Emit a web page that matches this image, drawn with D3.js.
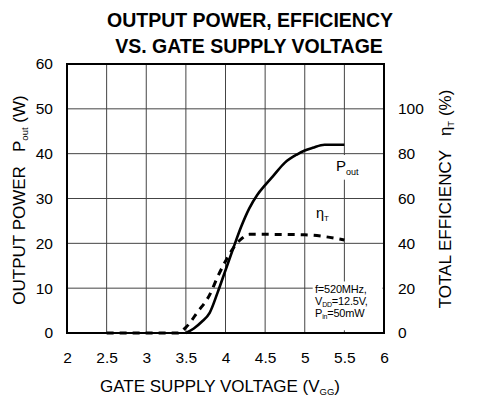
<!DOCTYPE html>
<html><head><meta charset="utf-8">
<script src="https://cdn.jsdelivr.net/npm/d3@7"></script>
<style>
body{margin:0;background:#fff;}
text{font-family:"Liberation Sans",Arial,sans-serif;fill:#000;white-space:pre;}
</style></head>
<body><svg id="c" width="490" height="401"></svg>
<script>
const xTicks = [2, 2.5, 3, 3.5, 4, 4.5, 5, 5.5, 6];
const leftTicks = [0, 10, 20, 30, 40, 50, 60];
const rightTicks = [0, 20, 40, 60, 80, 100];
const poutV = [3.5, 3.6, 3.7, 3.8, 3.9, 4.0, 4.1, 4.2, 4.3, 4.4, 4.5, 4.6, 4.75, 4.9, 5.0, 5.1, 5.25, 5.5];
const poutW = [0, 1, 2.5, 4.5, 9, 14, 19, 23.8, 27.8, 30.8, 33, 35, 38, 39.8, 40.7, 41.3, 42, 42];
const effV = [2.5, 3.0, 3.4, 3.5, 3.65, 3.8, 3.9, 4.0, 4.1, 4.2, 4.3, 4.5, 5.0, 5.25, 5.5];
const effPct = [0, 0, 0, 2.5, 9.5, 17, 25, 32, 38, 42, 44, 44, 43.8, 43, 41.5];
const noteLines = [["f=520MHz,"], ["V", "DD", "=12.5V,"], ["P", "in", "=50mW"]];

const svg = d3.select("#c");
const L = 67, R = 384, T = 64, B = 333;
const x = d3.scaleLinear().domain([2, 6]).range([L, R]);
const yL = d3.scaleLinear().domain([0, 60]).range([B, T]);
const yR = d3.scaleLinear().domain([0, 120]).range([B, T]);

// grid
const g = svg.append("g");
g.selectAll(".vg").data(xTicks.slice(1, -1)).join("line")
  .attr("x1", d => x(d)).attr("x2", d => x(d)).attr("y1", T).attr("y2", B)
  .attr("stroke", "#444").attr("stroke-width", 1);
g.selectAll(".hg").data(leftTicks.slice(1, -1)).join("line")
  .attr("y1", d => yL(d)).attr("y2", d => yL(d)).attr("x1", L).attr("x2", R)
  .attr("stroke", "#444").attr("stroke-width", 1);

// annotation box (white, covers grid)
svg.append("rect").attr("x", x(5.1)).attr("y", yL(11.5)).attr("width", x(5.98) - x(5.1)).attr("height", yL(0.6) - yL(11.5)).attr("fill", "#fff");
// white patch behind Pout label
svg.append("rect").attr("x", x(5.35)).attr("y", yL(39.7)).attr("width", x(5.75) - x(5.35)).attr("height", yL(34.2) - yL(39.7)).attr("fill", "#fff");

// frame
svg.append("rect").attr("x", L).attr("y", T).attr("width", R - L).attr("height", B - T)
  .attr("fill", "none").attr("stroke", "#000").attr("stroke-width", 2);

// axes (labels only)
const ax = svg.append("g").attr("transform", `translate(0,${B})`)
  .call(d3.axisBottom(x).tickValues(xTicks).tickSize(0).tickPadding(19).tickFormat(d3.format("")));
const ay = svg.append("g").attr("transform", `translate(${L},0)`)
  .call(d3.axisLeft(yL).tickValues(leftTicks).tickSize(0).tickPadding(14));
const ayr = svg.append("g").attr("transform", `translate(${R},0)`)
  .call(d3.axisRight(yR).tickValues(rightTicks).tickSize(0).tickPadding(14));
[ax, ay, ayr].forEach(a => {
  a.select(".domain").remove();
  a.selectAll("text").style("font-family", '"Liberation Sans",Arial,sans-serif').style("font-size", "15.5px").attr("fill", "#000");
});

// curves
const line = d3.line().curve(d3.curveMonotoneX);
svg.append("path").attr("d", line(poutV.map((v, i) => [x(v), yL(poutW[i])])))
  .attr("fill", "none").attr("stroke", "#000").attr("stroke-width", 2.6);
svg.append("path").attr("d", line(effV.map((v, i) => [x(v), yR(effPct[i])])))
  .attr("fill", "none").attr("stroke", "#000").attr("stroke-width", 3).attr("stroke-dasharray", "7,6");

// curve labels
const pl = svg.append("text").attr("x", 336).attr("y", 171).style("font-size", "15px");
pl.append("tspan").text("P");
pl.append("tspan").text("out").style("font-size", "9px").attr("dy", 4);
const el = svg.append("text").attr("x", 316).attr("y", 218).style("font-size", "14.5px");
el.append("tspan").text("η");
el.append("tspan").text("T").style("font-size", "8px").attr("dy", 3);

// note
noteLines.forEach((ln, i) => {
  const t = svg.append("text").attr("x", 315).attr("y", 293 + i * 12).style("font-size", "11px").style("letter-spacing", "-0.2px");
  if (ln.length === 1) { t.text(ln[0]); return; }
  t.append("tspan").text(ln[0]);
  t.append("tspan").text(ln[1]).style("font-size", "7px").attr("dy", 1.5);
  t.append("tspan").text(ln[2]).attr("dy", -1.5);
});

// titles
svg.append("text").attr("x", 250).attr("y", 27).attr("text-anchor", "middle")
  .style("font-size", "19.5px").style("font-weight", "bold").text("OUTPUT POWER, EFFICIENCY");
svg.append("text").attr("x", 249).attr("y", 53).attr("text-anchor", "middle")
  .style("font-size", "19.5px").style("font-weight", "bold").text("VS. GATE SUPPLY VOLTAGE");

// x axis title
const xt = svg.append("text").attr("x", 220).attr("y", 392).attr("text-anchor", "middle").style("font-size", "17px");
xt.append("tspan").text("GATE SUPPLY VOLTAGE (V");
xt.append("tspan").text("GG").style("font-size", "9.5px").attr("dy", 3);
xt.append("tspan").text(")").attr("dy", -3);

// left axis title
const lt = svg.append("text").attr("transform", "translate(25,200) rotate(-90)").attr("text-anchor", "middle").style("font-size", "17px");
lt.append("tspan").text("OUTPUT POWER   P");
lt.append("tspan").text("out").style("font-size", "9.5px").attr("dy", 3);
lt.append("tspan").text(" (W)").attr("dy", -3);

// right axis title
const rt = svg.append("text").attr("transform", "translate(451,199) rotate(-90)").attr("text-anchor", "middle").style("font-size", "17px");
rt.append("tspan").text("TOTAL EFFICIENCY   η");
rt.append("tspan").text("T").style("font-size", "9.5px").attr("dy", 3);
rt.append("tspan").text(" (%)").attr("dy", -3);
</script></body></html>
